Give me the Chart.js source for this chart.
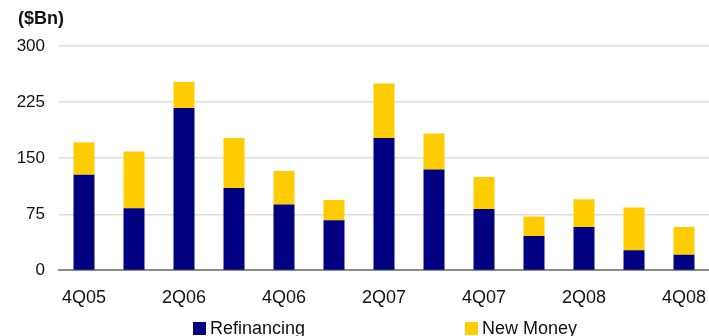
<!DOCTYPE html>
<html>
<head>
<meta charset="utf-8">
<script src="https://cdn.jsdelivr.net/npm/chart.js@4/dist/chart.umd.min.js"></script>
<style>
    html, body { margin: 0; padding: 0; background: #fff; }
    #wrap { position: relative; width: 709px; height: 336px; }
    .legend-item {
        position: absolute;
        top: 318px;
        height: 20px;
        display: flex;
        align-items: center;
        font: 18px "Liberation Sans", Arial, sans-serif;
        color: #111;
    }
    .legend-box { width: 13px; height: 13px; margin-right: 4px; }
</style>
</head>
<body>
<div id="wrap">
    <canvas id="issuance" width="709" height="336"></canvas>
    <div class="legend-item" style="left:193px"><span class="legend-box" style="background:#000080"></span>Refinancing</div>
    <div class="legend-item" style="left:465px"><span class="legend-box" style="background:#FFCC00"></span>New Money</div>
</div>
<script>
// Quarterly issuance, $Bn
const quarters = ['4Q05', '1Q06', '2Q06', '3Q06', '4Q06', '1Q07', '2Q07', '3Q07', '4Q07', '1Q08', '2Q08', '3Q08', '4Q08'];
const refinancing = [128, 83, 217, 110, 88, 67, 177, 135, 82, 46, 58, 27, 21];
const newMoney = [43, 76, 35, 67, 45, 27, 73, 48, 43, 26, 37, 57, 37];
const yTicks = [0, 75, 150, 225, 300];

const FONT = '"Liberation Sans", Arial, sans-serif';

// unit label in the top left corner
const unitLabel = {
    id: 'unitLabel',
    afterDraw(chart) {
        const ctx = chart.ctx;
        ctx.save();
        ctx.font = 'bold 18px ' + FONT;
        ctx.fillStyle = '#111';
        ctx.textBaseline = 'middle';
        ctx.textAlign = 'left';
        ctx.fillText('($Bn)', 18, 19);
        ctx.restore();
    }
};

new Chart(document.getElementById('issuance'), {
    type: 'bar',
    data: {
        labels: quarters,
        datasets: [
            {
                label: 'Refinancing',
                data: refinancing,
                backgroundColor: '#000080',
                barPercentage: 0.42,
                categoryPercentage: 1,
            },
            {
                label: 'New Money',
                data: newMoney,
                backgroundColor: '#FFCC00',
                barPercentage: 0.42,
                categoryPercentage: 1,
            },
        ],
    },
    options: {
        responsive: false,
        animation: false,
        layout: {
            padding: { left: 16, top: 46, right: 0, bottom: 10 },
        },
        plugins: {
            legend: { display: false },
            tooltip: { enabled: false },
        },
        scales: {
            x: {
                stacked: true,
                grid: { display: false, drawTicks: false },
                border: { display: true, color: '#8c8c8c', width: 2 },
                ticks: {
                    autoSkip: false,
                    maxRotation: 0,
                    padding: 17,
                    color: '#111',
                    font: { family: FONT, size: 18 },
                    callback: (value, index) => (index % 2 === 0 ? quarters[index] : ''),
                },
                // let the plot run to the right edge
                afterFit: (axis) => {
                    axis.paddingLeft = 0;
                    axis.paddingRight = 0;
                },
            },
            y: {
                stacked: true,
                min: 0,
                max: 300,
                afterBuildTicks: (axis) => {
                    axis.ticks = yTicks.map(v => ({ value: v }));
                },
                afterFit: (axis) => {
                    axis.width = 43;
                    axis.paddingTop = 0;
                    axis.paddingBottom = 0;
                },
                grid: {
                    drawTicks: false,
                    color: (c) => (c.tick && c.tick.value === 0 ? 'rgba(0,0,0,0)' : '#dedede'),
                    lineWidth: 1.5,
                },
                border: { display: false },
                ticks: {
                    padding: 14,
                    color: '#111',
                    font: { family: FONT, size: 17 },
                },
            },
        },
    },
    plugins: [unitLabel],
});
</script>
</body>
</html>
